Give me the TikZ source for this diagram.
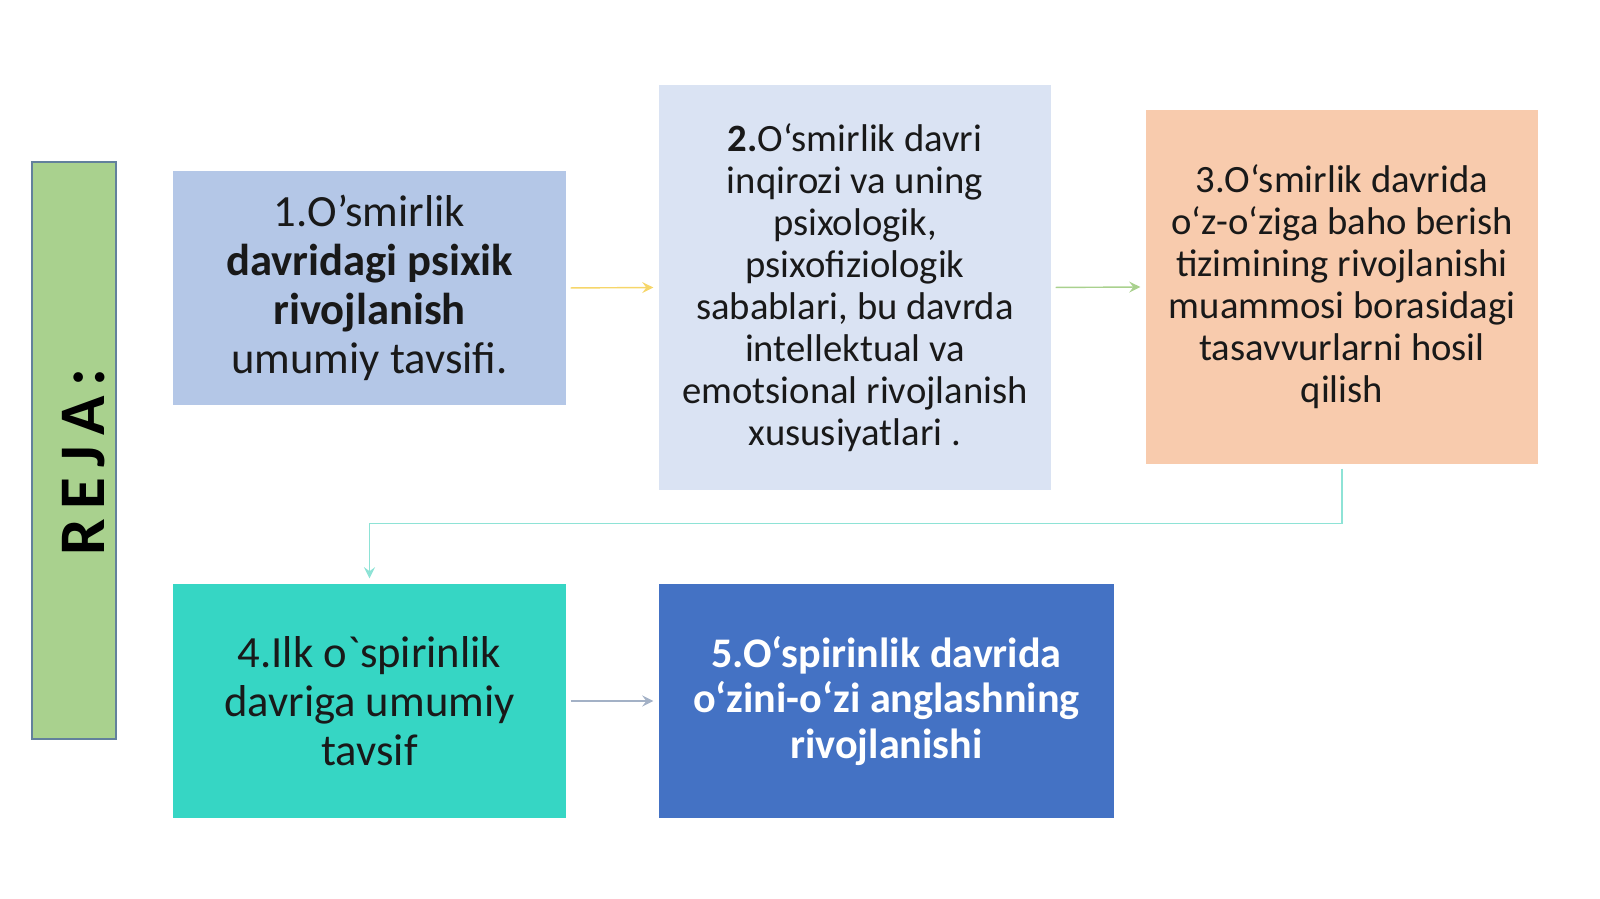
\documentclass[tikz,border=0pt]{standalone}
\usepackage{fontspec}
\setmainfont{Carlito}[Ligatures=TeXOff]
\usetikzlibrary{positioning,calc}
\definecolor{rejagreen}{HTML}{A9D18E}
\definecolor{rejaline}{HTML}{62809C}
\definecolor{planone}{HTML}{B4C7E7}
\definecolor{plantwo}{HTML}{DAE3F3}
\definecolor{planthree}{HTML}{F8CBAD}
\definecolor{planfour}{HTML}{36D6C4}
\definecolor{planfive}{HTML}{4472C4}
\definecolor{linkyellow}{HTML}{F6D66A}
\definecolor{linkgreen}{HTML}{A9D18E}
\definecolor{linkteal}{HTML}{8EE3D6}
\definecolor{linkgray}{HTML}{A3B1C6}
\newcommand{\rejagap}{\hspace{0.1cm}}

\begin{document}
\begin{tikzpicture}[
	planbox/.style={inner sep=0pt,align=center,text=black!90},
	link/.style={-stealth,thin,shorten <=0.04cm,shorten >=0.05cm}]
	\useasboundingbox (0,0) rectangle (16,8.99);
	
	\node[draw=rejaline,fill=rejagreen,minimum width=0.84cm,minimum height=5.77cm] (reja) at (0.74,4.485) {};
	\node[rotate=90,font=\fontsize{18.5}{22}\selectfont\bfseries] (rejatxt) at (0.835,4.37) {R\rejagap E\rejagap J\rejagap A\rejagap:};
	
	\node[planbox,fill=planone,minimum width=3.93cm,minimum height=2.34cm,font=\fontsize{12.7}{13.9}\selectfont] (s1) at (3.695,6.11) {1.O’smirlik\\ \textbf{davridagi psixik}\\ \textbf{rivojlanish}\\ umumiy tavsifi.};
	\node[planbox,fill=plantwo,minimum width=3.92cm,minimum height=4.05cm,font=\fontsize{11}{11.95}\selectfont] (s2) at (8.55,6.115) {\textbf{2.}O‘smirlik davri\\ inqirozi va uning\\ psixologik,\\ psixofiziologik\\ sabablari, bu davrda\\ intellektual va\\ emotsional rivojlanish\\ xususiyatlari .};
	\node[planbox,fill=planthree,minimum width=3.92cm,minimum height=3.54cm,font=\fontsize{11}{11.95}\selectfont] (s3) at (13.42,6.12) {3.O‘smirlik davrida\\ o‘z-o‘ziga baho berish\\ tizimining rivojlanishi\\ muammosi borasidagi\\ tasavvurlarni hosil\\ qilish};
	\node[planbox,fill=planfour,minimum width=3.93cm,minimum height=2.34cm,font=\fontsize{12.7}{13.9}\selectfont] (s4) at (3.695,1.98) {4.Ilk o`spirinlik\\ davriga umumiy\\ tavsif};
	\node[planbox,fill=planfive,minimum width=4.55cm,minimum height=2.34cm,text=white,font=\fontsize{12}{13.05}\selectfont\bfseries] (s5) at (8.865,1.98) {5.O‘spirinlik davrida\\ o‘zini-o‘zi anglashning\\ rivojlanishi};
	
	\coordinate (turn) at ($(s3.south)+(0,-0.59)$);
	\draw[link,linkyellow] (s1.east)--(s2.west);
	\draw[link,linkgreen] (s2.east)--(s3.west);
	\draw[link,linkteal] (s3.south)--(turn)-|(s4.north);
	\draw[link,linkgray] (s4.east)--(s5.west);
\end{tikzpicture}
\end{document}
